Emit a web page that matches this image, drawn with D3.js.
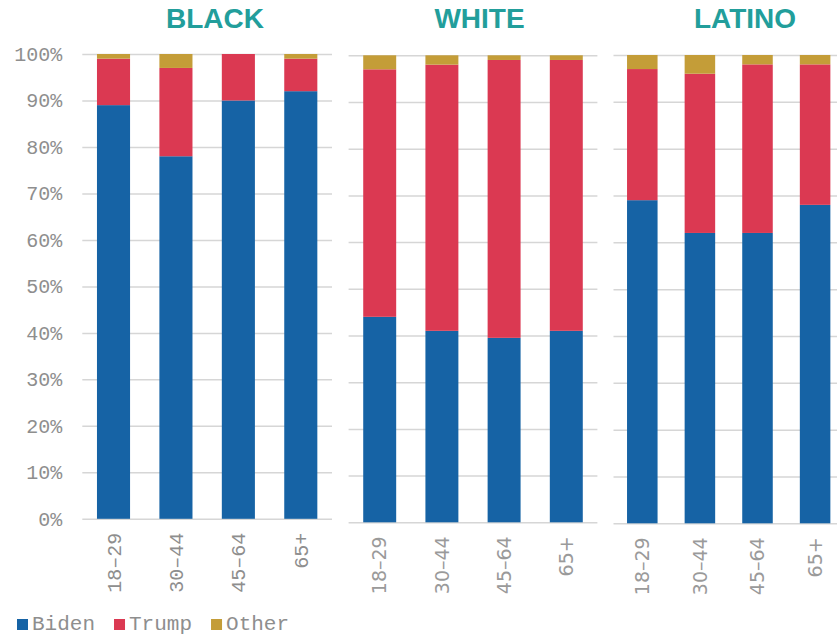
<!DOCTYPE html>
<html>
<head>
<meta charset="utf-8">
<script src="https://cdn.jsdelivr.net/npm/d3@7"></script>
<style>
  body { margin: 0; background: #fff; }
  svg { display: block; }
  .title { font-family: "Liberation Sans", Arial, sans-serif; font-weight: bold; font-size: 28px; fill: #229e9b; }
  .mono { font-family: "Liberation Mono", "Courier New", monospace; font-size: 20px; fill: #8e8e8e; }
  .legend text { font-size: 21px; }
  .sans { font-family: "DejaVu Sans", sans-serif; font-size: 19px; fill: #9a9a9a; }
  .grid line { stroke: #d6d6d6; stroke-width: 1.5; }
  .grid path { display: none; }
</style>
</head>
<body>
<svg width="837" height="634"></svg>
<script>
/* values, in percent */
var ageGroups = ["18–29", "30–44", "45–64", "65+"];
var groupNames = ["BLACK", "WHITE", "LATINO"];
var seriesNames = ["Biden", "Trump", "Other"];
var seriesColors = ["#1663a5", "#db3952", "#c49d38"];
var yTicks = [0, 10, 20, 30, 40, 50, 60, 70, 80, 90, 100];

var bidenBlack = [89, 78, 90, 92],
    trumpBlack = [10, 19, 10, 7],
    otherBlack = [1, 3, 0, 1];

var bidenWhite = [44, 41, 39.5, 41],
    trumpWhite = [53, 57, 59.5, 58],
    otherWhite = [3, 2, 1, 1];

var bidenLatino = [69, 62, 62, 68],
    trumpLatino = [28, 34, 36, 30],
    otherLatino = [3, 4, 2, 2];

/* each panel is a bit different in the original, so the layout is per panel */
var panels = [
  {name: groupNames[0], vals: [bidenBlack, trumpBlack, otherBlack],
   x0: 82.3, x1: 332, y0: 518.8, y1: 54, titleX: 215, labels: true, tickFont: "mono"},
  {name: groupNames[1], vals: [bidenWhite, trumpWhite, otherWhite],
   x0: 348.6, x1: 597.4, y0: 522.3, y1: 55.3, titleX: 479.5, labels: false, tickFont: "sans"},
  {name: groupNames[2], vals: [bidenLatino, trumpLatino, otherLatino],
   x0: 613.5, x1: 843.9, y0: 523.3, y1: 55, titleX: 745, labels: false, tickFont: "sans"}
];

var svg = d3.select("svg");
var color = d3.scaleOrdinal().domain(seriesNames).range(seriesColors);
var stack = d3.stack().keys(seriesNames);

panels.forEach(function(p) {
  var rows = ageGroups.map(function(a, i) {
    var r = {age: a};
    seriesNames.forEach(function(s, k) { r[s] = p.vals[k][i]; });
    return r;
  });

  var x = d3.scaleBand().domain(ageGroups).range([p.x0, p.x1])
      .paddingInner(0.47).paddingOuter(0.235);
  var y = d3.scaleLinear().domain([0, 100]).range([p.y0, p.y1]);

  var g = svg.append("g");

  /* gridlines (and the % labels on the first panel) */
  var yAxis = d3.axisLeft(y).tickValues(yTicks)
      .tickSize(-(p.x1 - p.x0)).tickPadding(20)
      .tickFormat(function(d) { return p.labels ? d + "%" : ""; });

  g.append("g")
      .attr("class", "grid")
      .attr("transform", "translate(" + p.x0 + ",0)")
      .call(yAxis)
      .call(function(s) {
        s.selectAll("text").attr("class", "mono").attr("fill", null).attr("font-size", null).attr("font-family", null);
      });

  /* stacked bars */
  g.selectAll(".layer")
    .data(stack(rows))
    .enter().append("g")
      .attr("class", "layer")
      .attr("fill", function(d) { return color(d.key); })
    .selectAll("rect")
    .data(function(d) { return d; })
    .enter().append("rect")
      .attr("x", function(d) { return x(d.data.age); })
      .attr("y", function(d) { return y(d[1]); })
      .attr("width", x.bandwidth())
      .attr("height", function(d) { return y(d[0]) - y(d[1]); });

  /* rotated age labels */
  var xAxis = g.append("g")
      .attr("transform", "translate(0," + p.y0 + ")")
      .call(d3.axisBottom(x).tickSize(0));
  xAxis.select(".domain").remove();
  xAxis.selectAll("text")
      .attr("class", p.tickFont)
      .attr("fill", null).attr("font-size", null).attr("font-family", null)
      .attr("transform", "rotate(-90)")
      .attr("x", -14)
      .attr("y", 0)
      .attr("dy", "0.35em")
      .style("text-anchor", "end");

  g.append("text")
      .attr("class", "title")
      .attr("x", p.titleX)
      .attr("y", 28.3)
      .attr("text-anchor", "middle")
      .text(p.name);
});

/* legend along the bottom */
var legend = svg.append("g").attr("class", "legend").attr("transform", "translate(17,619)");
var lx = 0;
seriesNames.forEach(function(s) {
  var item = legend.append("g").attr("transform", "translate(" + lx + ",0)");
  item.append("rect").attr("width", 11).attr("height", 11).attr("fill", color(s));
  var t = item.append("text").attr("class", "mono").attr("x", 15).attr("y", 10.5).text(s);
  lx += 15 + t.node().getComputedTextLength() + 19;
});
</script>
</body>
</html>
